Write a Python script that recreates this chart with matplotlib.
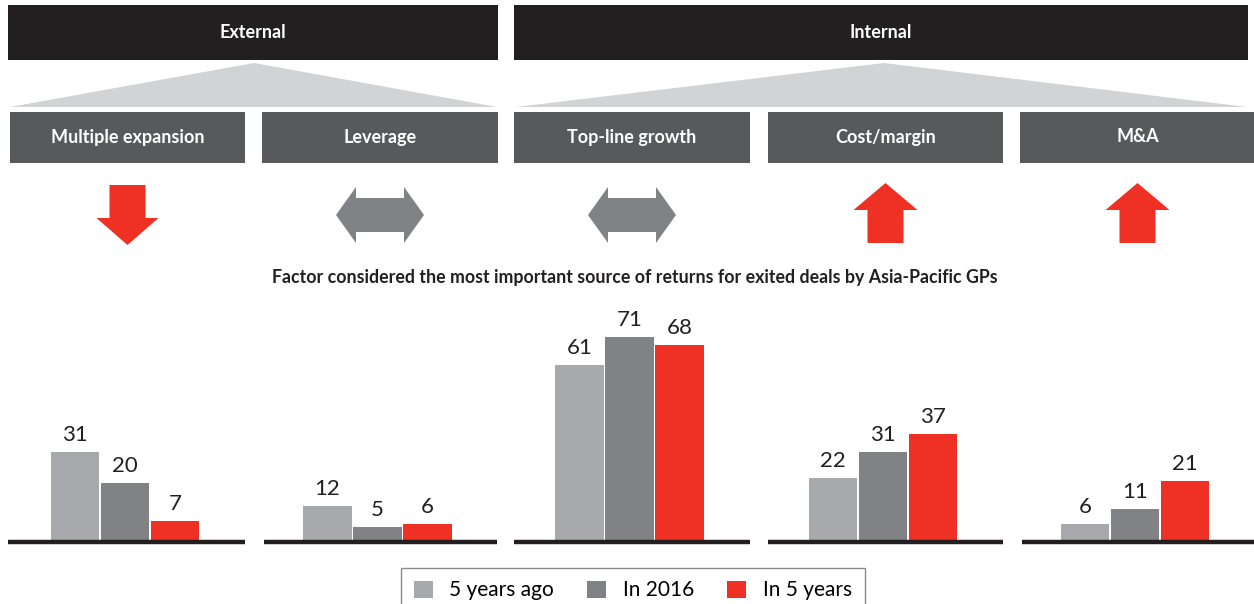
import numpy as np
import matplotlib.pyplot as plt
from matplotlib.patches import Polygon, Rectangle

plt.rcParams["font.family"] = ["Lato", "DejaVu Sans"]

# data
factors = ["Multiple expansion", "Leverage", "Top-line growth", "Cost/margin", "M&A"]
series_names = ["5 years ago", "In 2016", "In 5 years"]
five_years_ago = [31, 12, 61, 22, 6]
in_2016 = [20, 5, 71, 31, 11]
in_5_years = [7, 6, 68, 37, 21]
trend = ["down", "flat", "flat", "up", "up"]
subtitle = "Factor considered the most important source of returns for exited deals by Asia-Pacific GPs"

LIGHT = "#a7a9ac"
DARK = "#808285"
RED = "#ee3124"
BLACK = "#231f20"
BOX = "#58595b"
TRI = "#d1d3d4"

W, H = 1254, 604
fig = plt.figure(figsize=(W / 100, H / 100), dpi=100)

# overlay in pixel units for the header diagram
lay = fig.add_axes([0, 0, 1, 1])
lay.set_xlim(0, W)
lay.set_ylim(H, 0)
lay.axis("off")

# column spans (pixels) for each factor
cols = [(10, 245), (262, 498), (514, 750), (768, 1003), (1020, 1255)]

# top headers and triangles
for label, (x0, x1), apex in [("External", (8, 498), 254), ("Internal", (514, 1248), 884)]:
    lay.add_patch(Rectangle((x0, 5), x1 - x0, 55, color=BLACK, lw=0))
    lay.text((x0 + x1) / 2, 33, label, color="white", ha="center", va="center",
             fontsize=13, fontweight="bold")
    lay.add_patch(Polygon([(apex, 63), (x1 - 1, 107), (x0 + 2, 107)], closed=True,
                          color=TRI, lw=0))

for name, (x0, x1), t in zip(factors, cols, trend):
    lay.add_patch(Rectangle((x0, 112), x1 - x0, 51, color=BOX, lw=0))
    lay.text((x0 + x1) / 2, 137, name, color="white", ha="center", va="center",
             fontsize=13, fontweight="bold")
    cx = (x0 + x1) / 2
    if t == "down":
        pts = [(cx - 18, 185), (cx + 18, 185), (cx + 18, 218), (cx + 31, 218),
               (cx, 245), (cx - 31, 218), (cx - 18, 218)]
        lay.add_patch(Polygon(pts, closed=True, color=RED, lw=0))
    elif t == "up":
        pts = [(cx - 18, 243), (cx + 18, 243), (cx + 18, 210), (cx + 32, 210),
               (cx, 183), (cx - 32, 210), (cx - 18, 210)]
        lay.add_patch(Polygon(pts, closed=True, color=RED, lw=0))
    else:
        pts = [(cx - 44, 215), (cx - 24, 187), (cx - 24, 198), (cx + 24, 198),
               (cx + 24, 187), (cx + 44, 215), (cx + 24, 243), (cx + 24, 232),
               (cx - 24, 232), (cx - 24, 243)]
        lay.add_patch(Polygon(pts, closed=True, color=DARK, lw=0))

lay.text(635, 277, subtitle, ha="center", va="center", fontsize=12.8,
         fontweight="bold", color=BLACK)

# bar chart in value units, x in pixels
base_px = 541
top_px = 300
ax = fig.add_axes([0, 1 - base_px / H, 1, (base_px - top_px) / H])
ax.set_xlim(0, W)
ax.set_ylim(0, (base_px - top_px) / 2.88)
ax.axis("off")

bw = 50
centers = np.array([(x0 + x1) / 2 for x0, x1 in cols]) - 2.5
handles = []
for i, (vals, col) in enumerate(zip([five_years_ago, in_2016, in_5_years],
                                    [LIGHT, DARK, RED])):
    bars = ax.bar(centers + (i - 1) * bw, vals, width=bw - 1.5, color=col,
                  label=series_names[i], zorder=2)
    ax.bar_label(bars, padding=5, fontsize=16, color=BLACK)
    handles.append(bars)

for x0, x1 in [(8, 245), (264, 497), (514, 750), (768, 1003), (1022, 1254)]:
    ax.plot([x0, x1], [-0.35, -0.35], color=BLACK, lw=3.2, solid_capstyle="butt",
            zorder=3, clip_on=False)

leg = fig.legend(handles=handles, loc="upper center", bbox_to_anchor=(633 / W, 1 - 568 / H),
                 ncol=3, fontsize=15, frameon=True, fancybox=False, handlelength=0.9,
                 handleheight=0.9, handletextpad=0.8, columnspacing=1.6, borderpad=0.6,
                 borderaxespad=0)
leg.get_frame().set_edgecolor("#6d6e71")
leg.get_frame().set_linewidth(1.0)

fig.savefig("out.png", dpi=100)
